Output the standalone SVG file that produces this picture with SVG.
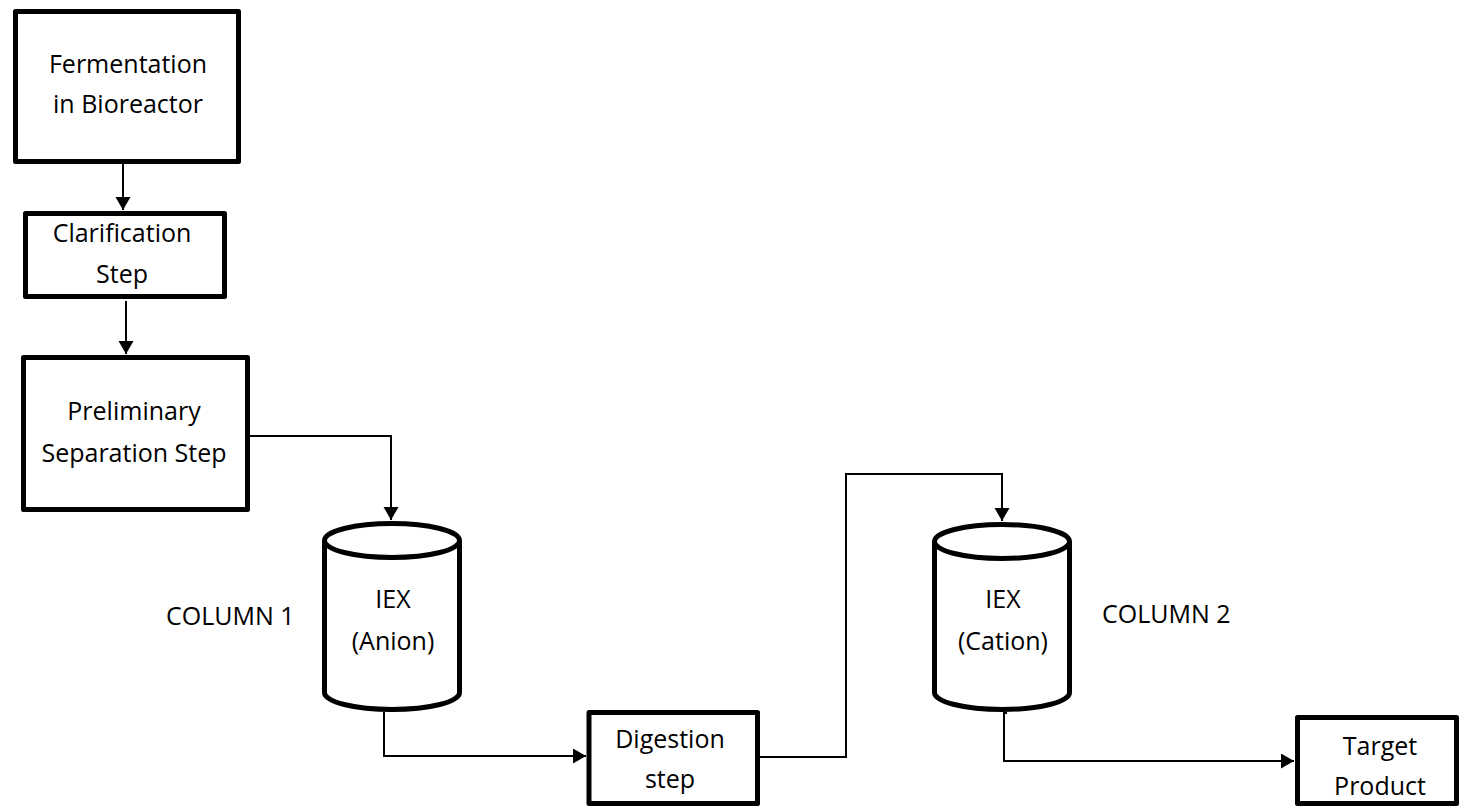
<svg xmlns="http://www.w3.org/2000/svg" width="1462" height="809" viewBox="0 0 1462 809">
<style>
.box{fill:#fff;stroke:#000;stroke-width:5;stroke-linejoin:round}
.cyl{fill:#fff;stroke:#000;stroke-width:5;stroke-linejoin:round}
.conn{fill:none;stroke:#000;stroke-width:2}
text{font-family:"Open Sans","Liberation Sans",sans-serif;font-size:25px;fill:#000}
.c{text-anchor:middle}
</style>
<defs>
<marker id="arr" markerUnits="userSpaceOnUse" markerWidth="14" markerHeight="16" refX="13" refY="7.5" orient="auto">
<path d="M0,0 L13,7.5 L0,15 z" fill="#000"/>
</marker>
</defs>
<rect width="1462" height="809" fill="#fff"/>
<g id="connectors">
<path class="conn" d="M123,164 L123,210" marker-end="url(#arr)"/>
<path class="conn" d="M126,301 L126,354" marker-end="url(#arr)"/>
<path class="conn" d="M250,436 L391,436 L391,520" marker-end="url(#arr)"/>
<path class="conn" d="M384,712 L384,756 L586,756" marker-end="url(#arr)"/>
<path class="conn" d="M760,757 L846,757 L846,474 L1002,474 L1002,521" marker-end="url(#arr)"/>
<path class="conn" d="M1007,713 L1004,713 L1004,761 L1294,761" marker-end="url(#arr)"/>
</g>
<g id="fermentation">
<rect class="box" x="15.5" y="11.5" width="223" height="150"/>
<text class="c" x="128" y="73">Fermentation</text>
<text class="c" x="128" y="113">in Bioreactor</text>
</g>
<g id="clarification">
<rect class="box" x="25.5" y="213.5" width="199" height="83"/>
<text class="c" x="122" y="242">Clarification</text>
<text class="c" x="122" y="283">Step</text>
</g>
<g id="preliminary">
<rect class="box" x="23.5" y="357.5" width="224" height="152"/>
<text class="c" x="134" y="420">Preliminary</text>
<text class="c" x="134" y="462">Separation Step</text>
</g>
<g id="column1">
<path class="cyl" d="M324.5,540.5 L324.5,692.5 A67.5,17 0 0 0 459.5,692.5 L459.5,540.5 A67.5,17 0 0 0 324.5,540.5 A67.5,17 0 0 0 459.5,540.5"/>
<text class="c" x="393" y="608">IEX</text>
<text class="c" x="393" y="650">(Anion)</text>
<text x="166" y="625">COLUMN 1</text>
</g>
<g id="digestion">
<rect class="box" x="589" y="712.5" width="168.5" height="91"/>
<text class="c" x="670" y="748">Digestion</text>
<text class="c" x="670" y="788">step</text>
</g>
<g id="column2">
<path class="cyl" d="M934.5,541.5 L934.5,692.5 A67.5,17 0 0 0 1069.5,692.5 L1069.5,541.5 A67.5,17 0 0 0 934.5,541.5 A67.5,17 0 0 0 1069.5,541.5"/>
<text class="c" x="1003" y="608">IEX</text>
<text class="c" x="1003" y="650">(Cation)</text>
<text x="1102" y="623">COLUMN 2</text>
</g>
<g id="target">
<rect class="box" x="1297.5" y="717.5" width="159" height="86"/>
<text class="c" x="1380" y="755">Target</text>
<text class="c" x="1380" y="795">Product</text>
</g>
</svg>
